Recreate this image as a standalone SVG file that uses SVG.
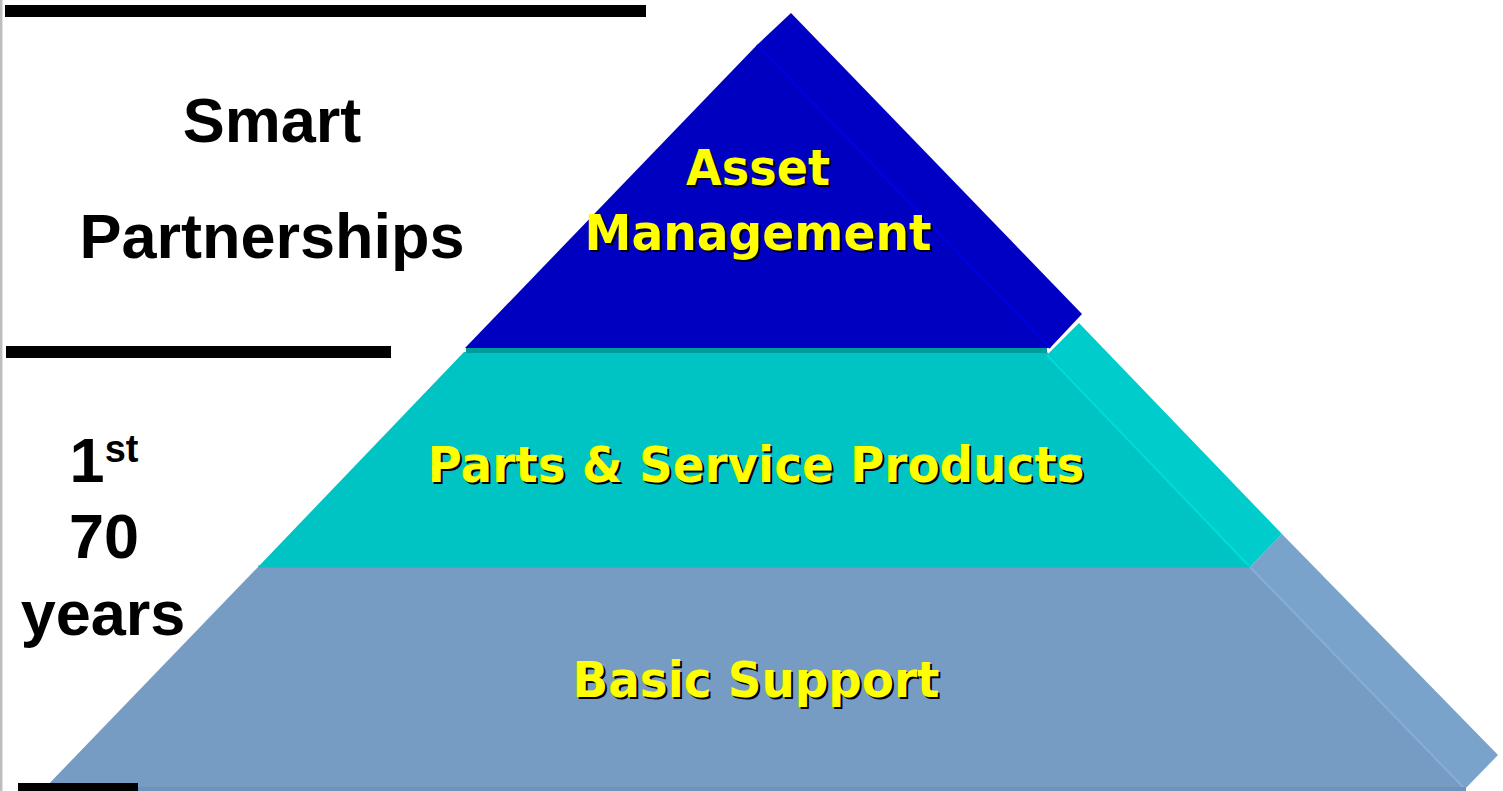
<svg xmlns="http://www.w3.org/2000/svg" width="1503" height="791" viewBox="0 0 1503 791">
<style>
.lbl{font-family:"Liberation Sans",Arial,sans-serif;font-weight:bold;font-size:63px;fill:#000;text-anchor:middle}
.yl{font-family:"DejaVu Sans",Verdana,sans-serif;font-weight:bold;font-size:49px;text-anchor:middle}
.sh{fill:#000}
.fg{fill:#FFFF00}
.bar{fill:#000}
</style>
<rect x="0" y="0" width="1503" height="791" fill="#fff"/>
<rect x="0" y="0" width="2" height="791" fill="#BDBDBD"/>
<rect x="2" y="0" width="1" height="791" fill="#E2E2E2"/>
<g id="left-labels">
<text class="lbl" x="272" y="142">Smart</text>
<text class="lbl" x="272" y="258">Partnerships</text>
<text class="lbl" x="104" y="482">1<tspan font-size="38" dy="-20">st</tspan></text>
<text class="lbl" x="104" y="558">70</text>
<text class="lbl" x="103" y="635">years</text>
</g>
<g id="basic-support">
<polygon points="1250,567 1282,534 1498,755 1465,789" fill="#79A3CB"/>
<polygon points="258,567 1250,567 1465,789 42,791" fill="#779CC4"/>
<line x1="1250" y1="567" x2="1465" y2="789" stroke="#86AEDA" stroke-width="2"/>
<rect x="40" y="787" width="1426" height="4" fill="#6F93BA"/>
<g class="yl">
<text class="sh" x="758" y="699" textLength="367" lengthAdjust="spacingAndGlyphs">Basic Support</text>
<text class="fg" x="756" y="697" textLength="367" lengthAdjust="spacingAndGlyphs">Basic Support</text>
</g>
</g>
<g id="parts-service">
<polygon points="1047,355 1079,323 1282,534 1250,567" fill="#00CCCC"/>
<polygon points="464,352 1047,352 1250,567 258,567" fill="#00C4C4"/>
<line x1="1047" y1="355" x2="1250" y2="567" stroke="#00DCDC" stroke-width="2"/>
<rect x="466" y="348" width="581" height="5" fill="#009B9B"/>
<rect x="258" y="565" width="992" height="3" fill="#1FB6C4" opacity="0.6"/>
<g class="yl">
<text class="sh" x="758" y="484" textLength="657" lengthAdjust="spacingAndGlyphs">Parts &amp; Service Products</text>
<text class="fg" x="756" y="482" textLength="657" lengthAdjust="spacingAndGlyphs">Parts &amp; Service Products</text>
</g>
</g>
<g id="asset-management">
<polygon points="757,45 791,13 1082,314 1050,348" fill="#0000C4"/>
<polygon points="465,348 757,45 1050,348" fill="#0000C0"/>
<line x1="757" y1="45" x2="1050" y2="348" stroke="#0000E0" stroke-width="2"/>
<g class="yl">
<text class="sh" x="760" y="187" textLength="144" lengthAdjust="spacingAndGlyphs">Asset</text>
<text class="fg" x="758" y="185" textLength="144" lengthAdjust="spacingAndGlyphs">Asset</text>
<text class="sh" x="760" y="252" textLength="347" lengthAdjust="spacingAndGlyphs">Management</text>
<text class="fg" x="758" y="250" textLength="347" lengthAdjust="spacingAndGlyphs">Management</text>
</g>
</g>
<g id="bars">
<rect class="bar" x="5" y="5" width="641" height="12"/>
<rect class="bar" x="6" y="346" width="385" height="12"/>
<rect class="bar" x="18" y="783" width="120" height="8"/>
</g>
</svg>
